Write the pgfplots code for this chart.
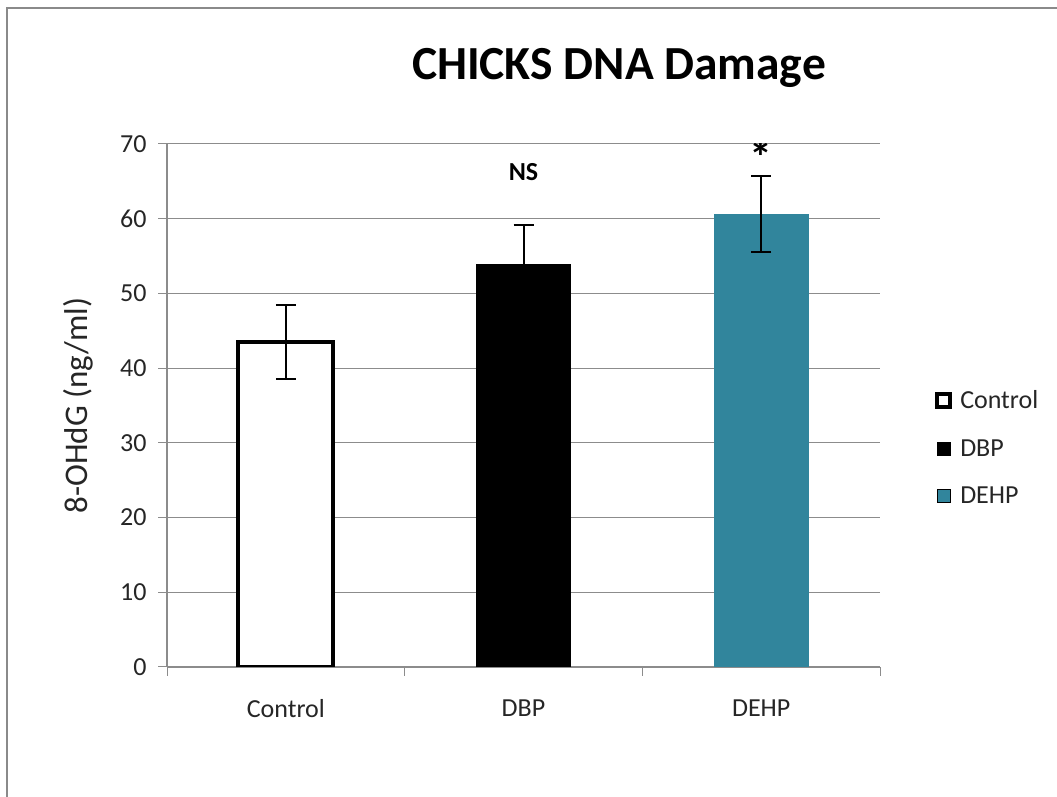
\documentclass[border=0pt]{standalone}
\usepackage{pgfplots}
\pgfplotsset{compat=1.18}
\usepackage{fontspec}
\setmainfont{Carlito}
\definecolor{teal5}{HTML}{31859C}
\definecolor{gridgray}{HTML}{8C8C8C}
\definecolor{framegray}{HTML}{8A8A8A}
\definecolor{txt}{HTML}{262626}
\begin{document}
\begin{tikzpicture}
\useasboundingbox (0,0) rectangle (1057pt,797pt);
\fill[white] (0,0) rectangle (1057pt,797pt);
\draw[framegray, line width=2.5pt] (7pt,0pt) -- (7pt,789pt) -- (1057pt,789pt);
\node[font=\fontsize{47.5}{52}\selectfont\bfseries, text=black] at (619pt,729pt) {CHICKS DNA Damage};
\begin{axis}[
  at={(167pt,130pt)}, anchor=south west,
  scale only axis, width=713pt, height=523pt,
  xmin=-0.5, xmax=2.5, ymin=0, ymax=70,
  ytick={0,10,...,70},
  ymajorgrids, grid style={gridgray, line width=1pt},
  axis lines*=left,
  axis line style={gridgray, line width=1.3pt},
  xtick={-0.5,0.5,1.5,2.5}, x tick label as interval,
  xticklabels={Control,DBP,DEHP},
  tick align=outside, major tick length=9pt,
  tick style={gridgray, line width=1pt},
  ybar, bar width=0.4, bar shift=0pt,
  ylabel={8-OHdG (ng/ml)},
  ylabel style={font=\fontsize{33}{36}\selectfont, text=txt, yshift=20pt},
  tick label style={font=\fontsize{26}{30}\selectfont, text=txt},
  xticklabel style={yshift=-20pt},
  yticklabel style={xshift=-8pt},
  /pgf/number format/assume math mode=true,
  error bars/y dir=both, error bars/y explicit,
  error bars/error bar style={black, line width=2pt},
  error bars/error mark options={black, line width=2pt, mark size=10pt, rotate=90},
  legend style={at={(1.073,0.536)}, anchor=north west, draw=none, fill=none,
    font=\fontsize{26}{30}\selectfont, row sep=25pt, column sep=6pt, text=txt},
  legend cell align=left,
  legend image code/.code={\draw[#1] (0pt,-6.5pt) rectangle (13pt,6.5pt);},
]
\addplot[fill=white, draw=black, line width=4pt] coordinates {(0,43.5) +- (0,5.0)};
\addlegendentry{Control}
\addplot[fill=black, draw=none] coordinates {(1,54.0) +- (0,5.2)};
\addlegendentry{DBP}
\addplot[fill=teal5, draw=none] coordinates {(2,60.6) +- (0,5.1)};
\addlegendentry{DEHP}
\node[font=\fontsize{26}{30}\selectfont\bfseries] at (axis cs:1,66.3) {NS};
\node[font=\fontsize{46}{50}\selectfont\bfseries] at (axis cs:2,68.2) {*};
\end{axis}
\end{tikzpicture}
\end{document}
